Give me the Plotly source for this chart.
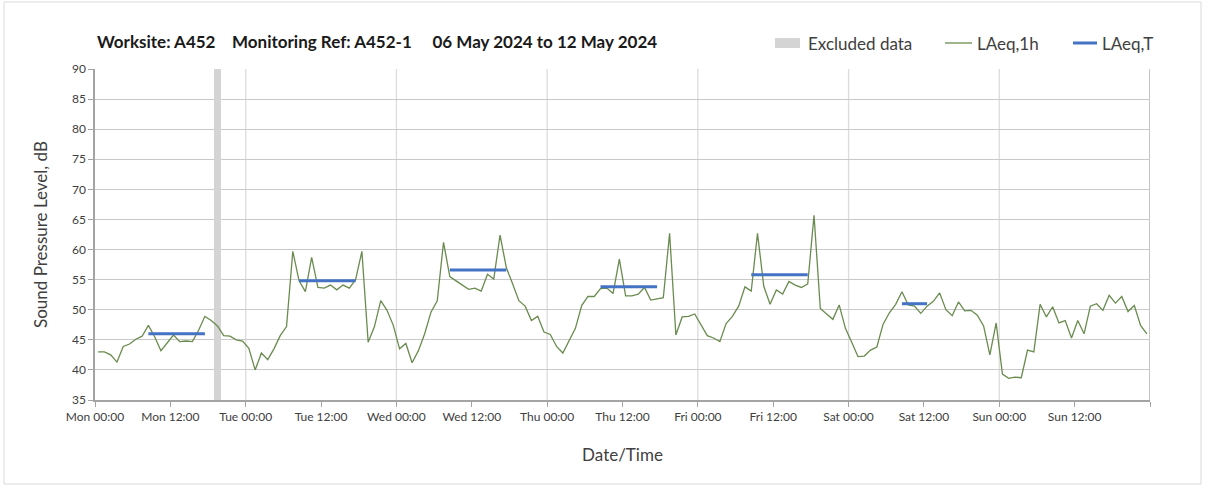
import pandas as pd
import plotly.graph_objects as go

# Hourly LAeq,1h values (dB), Mon 06 May 2024 00:00 onwards
mon = [43.0, 43.0, 42.5, 41.3, 43.9, 44.3, 45.1, 45.6, 47.4, 45.5, 43.2, 44.6,
       45.8, 44.7, 44.8, 44.7, 46.6, 48.9, 48.2, 47.3, 45.7, 45.6, 45.0, 44.8]
tue = [43.6, 40.0, 42.8, 41.7, 43.5, 45.7, 47.2, 59.7, 54.8, 53.0, 58.7, 53.7,
       53.6, 54.1, 53.3, 54.1, 53.6, 55.0, 59.7, 44.6, 47.2, 51.5, 49.9, 47.4]
wed = [43.5, 44.4, 41.2, 43.2, 46.0, 49.6, 51.5, 61.2, 55.5, 54.8, 54.1, 53.4,
       53.6, 53.1, 55.9, 55.1, 62.4, 57.0, 54.3, 51.5, 50.6, 48.2, 48.9, 46.3]
thu = [45.9, 43.9, 42.8, 44.9, 46.9, 50.7, 52.2, 52.2, 53.5, 53.6, 52.7, 58.4,
       52.3, 52.3, 52.6, 53.7, 51.6, 51.8, 52.0, 62.7, 45.8, 48.8, 48.9, 49.3]
fri = [47.4, 45.7, 45.3, 44.7, 47.7, 48.9, 50.6, 53.8, 53.1, 62.7, 53.9, 50.9,
       53.3, 52.6, 54.7, 54.1, 53.7, 54.3, 65.7, 50.2, 49.3, 48.4, 50.8, 46.9]
sat = [44.6, 42.2, 42.3, 43.3, 43.8, 47.6, 49.5, 50.9, 53.0, 50.8, 50.6, 49.4,
       50.6, 51.4, 52.8, 50.0, 49.0, 51.3, 49.8, 49.9, 49.1, 47.3, 42.5, 47.8]
sun = [39.3, 38.6, 38.8, 38.7, 43.3, 43.0, 50.9, 48.8, 50.5, 47.8, 48.2, 45.3,
       48.2, 46.0, 50.6, 51.0, 49.9, 52.4, 51.1, 52.2, 49.7, 50.7, 47.4, 46.0]
laeq_1h = mon + tue + wed + thu + fri + sat + sun

# Daytime LAeq,T per day: value and first/last hour of the period
period_days = ["2024-05-06", "2024-05-07", "2024-05-08", "2024-05-09",
               "2024-05-10", "2024-05-11"]
period_values = [46.0, 54.8, 56.6, 53.8, 55.8, 51.0]
period_first_hour = [8, 8, 8, 8, 8, 8]
period_last_hour = [17, 17, 17, 17, 17, 12]

# Hours flagged as excluded
excluded_hours = ["2024-05-06 19:00"]

y_ticks = [35, 40, 45, 50, 55, 60, 65, 70, 75, 80, 85, 90]

start = pd.Timestamp("2024-05-06 00:00")
end = start + pd.Timedelta(days=7)
half_hour = pd.Timedelta(minutes=30)
hour_starts = pd.date_range(start, periods=len(laeq_1h), freq="h")
centres = hour_starts + half_hour

# LAeq,T segments drawn across the hourly slots of each period
t_x, t_y = [], []
for day, val, h0, h1 in zip(period_days, period_values,
                            period_first_hour, period_last_hour):
    d = pd.Timestamp(day)
    for h in range(h0, h1 + 1):
        t_x.append(d + pd.Timedelta(hours=h) + half_hour)
        t_y.append(val)
    t_x.append(None)
    t_y.append(None)

font = "Lato, 'Open Sans', sans-serif"
grid = "#c9c9c9"
axis_col = "#a3a3a3"
text_col = "#404040"
excl_col = "#d4d4d4"
green = "#6a8b4f"
blue = "#4472c4"

# Plot-area geometry (pixels) used to place the key above the plot
L, R, T, B = 95, 58, 69, 90
PW, PH = 1208 - L - R, 490 - T - B


def px(xp):
    return (xp - L) / PW


def py(yp):
    return (490 - B - yp) / PH


fig = go.Figure()

fig.add_trace(go.Bar(
    x=[pd.Timestamp(h) + half_hour for h in excluded_hours],
    y=[y_ticks[-1]] * len(excluded_hours),
    width=[3600 * 1000] * len(excluded_hours),
    marker=dict(color=excl_col, line=dict(width=0)),
    name="Excluded data",
))

fig.add_trace(go.Scatter(
    x=centres, y=laeq_1h, mode="lines",
    line=dict(color=green, width=1.3),
    name="LAeq,1h",
))

fig.add_trace(go.Scatter(
    x=t_x, y=t_y, mode="lines", connectgaps=False,
    line=dict(color=blue, width=3),
    name="LAeq,T",
))

# Vertical gridlines at each midnight
for d in pd.date_range(start, end, freq="D")[1:]:
    fig.add_shape(type="line", xref="x", yref="y",
                  x0=d, x1=d, y0=y_ticks[0], y1=y_ticks[-1],
                  line=dict(color="#dcdcdc" if d != end else axis_col, width=1.3),
                  layer="below")

tick_vals = pd.date_range(start, end - pd.Timedelta(hours=12), freq="12h")
tick_text = [t.strftime("%a %H:%M") for t in tick_vals]

# Key above the plot
key_y = 43
fig.add_shape(type="rect", xref="paper", yref="paper",
              x0=px(775), x1=px(800), y0=py(48), y1=py(38),
              fillcolor=excl_col, line=dict(width=0))
fig.add_shape(type="line", xref="paper", yref="paper",
              x0=px(945), x1=px(972), y0=py(key_y), y1=py(key_y),
              line=dict(color=green, width=1.3))
fig.add_shape(type="line", xref="paper", yref="paper",
              x0=px(1073), x1=px(1097), y0=py(key_y), y1=py(key_y),
              line=dict(color=blue, width=3))
key_labels = [("Excluded data", 806), ("LAeq,1h", 975), ("LAeq,T", 1100)]
annotations = [dict(text=t, xref="paper", yref="paper", x=px(xp), y=py(key_y),
                    xanchor="left", yanchor="middle", showarrow=False,
                    font=dict(size=17, color=text_col, family=font))
               for t, xp in key_labels]

annotations.append(dict(
    text="Worksite: A452    Monitoring Ref: A452-1     06 May 2024 to 12 May 2024",
    xref="paper", yref="paper", x=0, y=py(42), xanchor="left", yanchor="middle",
    showarrow=False, font=dict(size=17, color="#1a1a1a", family=font, weight="bold"),
))

fig.update_layout(
    width=1208, height=490,
    margin=dict(l=L, r=R, t=T, b=B),
    paper_bgcolor="white", plot_bgcolor="white",
    font=dict(family=font, size=12, color=text_col),
    bargap=0,
    showlegend=False,
    xaxis=dict(
        type="date", range=[start, end],
        tickvals=list(tick_vals) + [end], ticktext=tick_text + [""],
        showgrid=False, zeroline=False,
        showline=True, linecolor=axis_col, linewidth=1.5,
        ticks="outside", ticklen=5, tickcolor=axis_col, tickwidth=1,
        tickfont=dict(size=12, color=text_col),
        title=dict(text="Date/Time", font=dict(size=17, color=text_col),
                   standoff=26),
    ),
    yaxis=dict(
        range=[y_ticks[0], y_ticks[-1]], tickvals=y_ticks,
        showgrid=True, gridcolor=grid, gridwidth=1.3, zeroline=False,
        showline=True, linecolor=axis_col, linewidth=1.5,
        ticks="outside", ticklen=5, tickcolor=axis_col,
        tickfont=dict(size=12, color=text_col),
        title=dict(text="Sound Pressure Level, dB",
                   font=dict(size=17, color=text_col), standoff=20),
    ),
    annotations=annotations,
)

# Light frame around the whole chart
fig.add_shape(type="rect", xref="paper", yref="paper",
              x0=px(4), x1=px(1201), y0=py(484), y1=py(2),
              line=dict(color="#d9d9d9", width=1))

fig.write_html("out.html")
